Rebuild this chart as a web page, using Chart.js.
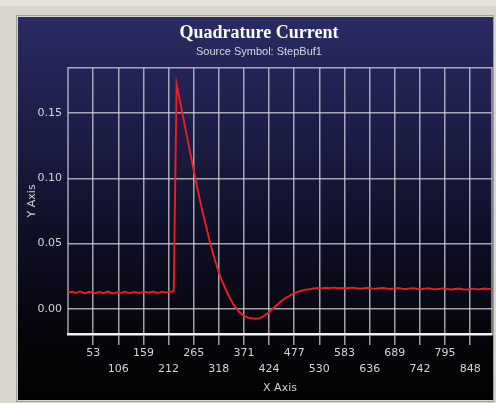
<!DOCTYPE html>
<html>
<head>
<meta charset="utf-8">
<script src="https://cdn.jsdelivr.net/npm/chart.js@4.4.1/dist/chart.umd.min.js"></script>
<style>
  html, body { margin: 0; padding: 0; background: #d8d5cc; }
  canvas { display: block; }
</style>
</head>
<body>
<canvas id="c" width="496" height="403"></canvas>
<script>
// ---- data ----
const chartTitle = 'Quadrature Current';
const chartSubtitle = 'Source Symbol: StepBuf1';
const xAxisTitle = 'X Axis';
const yAxisTitle = 'Y Axis';

const xTickValues = [53, 106, 159, 212, 265, 318, 371, 424, 477, 530, 583, 636, 689, 742, 795, 848];
const yTickValues = [0.00, 0.05, 0.10, 0.15];

// baseline before the step
const xBase = [0,5,10,15,20,25,30,35,40,45,50,55,60,65,70,75,80,85,90,95,100,105,110,115,120,125,130,135,140,145,150,155,160,165,170,175,180,185,190,195,200,205,210,215,220];
const yBase = [0.0135,0.0128,0.0131,0.0122,0.0126,0.0134,0.0129,0.0120,0.0125,0.0131,
               0.0127,0.0119,0.0124,0.0130,0.0126,0.0121,0.0128,0.0133,0.0125,0.0118,
               0.0123,0.0129,0.0124,0.0127,0.0132,0.0126,0.0121,0.0125,0.0130,0.0127,
               0.0122,0.0126,0.0131,0.0128,0.0124,0.0129,0.0133,0.0127,0.0123,0.0128,
               0.0132,0.0126,0.0129,0.0134,0.0131];

// step, peak, decay, undershoot and recovery
const xStep = [223,229,234,240,246,252,258,264,270,276,282,288,294,300,306,312,318,324,330,336,342,348,354,360,366,372,378,384,390,396,402,408,414,420,426,432,438,444,450,456,462,468,474,480,486,492,498,504,510,516,522];
const yStep = [0.0140,0.1720,0.1630,0.1520,0.1410,0.1300,0.1190,0.1080,0.0970,0.0870,0.0770,0.0680,0.0590,0.0500,0.0420,0.0350,0.0280,0.0220,0.0170,0.0120,0.0080,0.0040,0.0010,-0.0020,-0.0040,-0.0055,-0.0065,-0.0070,-0.0073,-0.0075,-0.0072,-0.0065,-0.0052,-0.0036,-0.0018,0.0002,0.0022,0.0042,0.0060,0.0076,0.0090,0.0103,0.0115,0.0124,0.0132,0.0139,0.0144,0.0149,0.0152,0.0156,0.0158];

// settled tail
const xTail = [528,536,544,552,560,568,576,584,592,600,608,616,624,632,640,648,656,664,672,680,688,696,704,712,720,728,736,744,752,760,768,776,784,792,800,808,816,824,832,840,848,856,864,872,880,888,894];
const yTail = [0.0160,0.0157,0.0162,0.0159,0.0163,0.0158,0.0161,0.0156,0.0160,0.0163,
               0.0158,0.0155,0.0159,0.0162,0.0157,0.0154,0.0158,0.0161,0.0156,0.0153,
               0.0157,0.0160,0.0155,0.0152,0.0156,0.0159,0.0154,0.0151,0.0155,0.0158,
               0.0153,0.0150,0.0154,0.0157,0.0152,0.0149,0.0153,0.0156,0.0151,0.0148,
               0.0152,0.0155,0.0150,0.0153,0.0156,0.0152,0.0154];

const xMin = 0, xMax = 894;
const yMin = -0.0192, yMax = 0.1846;

// ---- build points ----
const xs = xBase.concat(xStep, xTail);
const ys = yBase.concat(yStep, yTail);
const points = xs.map((x, i) => ({ x: x, y: ys[i] }));

const gridColor = 'rgba(205,205,215,0.78)';
const labelColor = '#d4d4d8';

const panelPlugin = {
  id: 'panel',
  beforeDraw(chart) {
    const ctx = chart.ctx;
    ctx.save();
    ctx.fillStyle = '#d8d5cc';
    ctx.fillRect(0, 0, chart.width, chart.height);
    ctx.fillStyle = '#e6e3da';
    ctx.fillRect(0, 0, chart.width, 6);
    ctx.strokeStyle = '#a09d95';
    ctx.lineWidth = 1;
    ctx.strokeRect(16.5, 15.5, 477, 386);
    const g = ctx.createLinearGradient(0, 17, 0, 400);
    g.addColorStop(0, '#2a2b63');
    g.addColorStop(0.3, '#1c1d45');
    g.addColorStop(0.6, '#0d0e22');
    g.addColorStop(0.85, '#050509');
    g.addColorStop(1, '#030303');
    ctx.fillStyle = g;
    ctx.fillRect(18, 17, 475, 383);
    ctx.restore();
  },
  beforeDatasetsDraw(chart) {
    const a = chart.chartArea;
    const ctx = chart.ctx;
    ctx.save();
    ctx.strokeStyle = gridColor;
    ctx.lineWidth = 1.5;
    ctx.beginPath();
    ctx.moveTo(a.left, a.bottom);
    ctx.lineTo(a.left, a.top);
    ctx.lineTo(a.right, a.top);
    ctx.lineTo(a.right, a.bottom);
    ctx.stroke();
    ctx.restore();
  }
};

new Chart(document.getElementById('c'), {
  type: 'line',
  data: {
    datasets: [{
      data: points,
      borderColor: '#ee1c24',
      borderWidth: 1.9,
      pointRadius: 0,
      tension: 0,
      fill: false
    }]
  },
  options: {
    responsive: false,
    devicePixelRatio: 1,
    animation: false,
    layout: { padding: { left: 26, right: 4, top: 23, bottom: 8 } },
    plugins: {
      legend: { display: false },
      tooltip: { enabled: false },
      title: {
        display: true,
        text: chartTitle,
        color: '#ffffff',
        font: { family: 'Liberation Serif', size: 18, weight: 'bold' },
        padding: { top: 0, bottom: 0 }
      },
      subtitle: {
        display: true,
        text: chartSubtitle,
        color: '#d8d8e0',
        font: { family: 'Liberation Sans', size: 11 },
        padding: { top: 1, bottom: 9 }
      }
    },
    scales: {
      x: {
        type: 'linear',
        min: xMin,
        max: xMax,
        afterBuildTicks: s => { s.ticks = xTickValues.map(v => ({ value: v })); },
        afterFit: s => { s.height = 61; },
        ticks: {
          autoSkip: false,
          maxRotation: 0,
          padding: 0,
          color: labelColor,
          font: { family: 'DejaVu Sans', size: 11, lineHeight: 1.45 },
          callback: (v, i) => (i % 2 === 0 ? String(v) : ['', String(v)])
        },
        grid: {
          color: gridColor,
          lineWidth: 1.5,
          tickLength: 11,
          tickColor: gridColor,
          drawTicks: true
        },
        border: { display: true, color: '#f2f2f2', width: 2.5 },
        title: {
          display: true,
          text: xAxisTitle,
          color: labelColor,
          font: { family: 'DejaVu Sans', size: 11 },
          padding: { top: 3, bottom: 0 }
        }
      },
      y: {
        type: 'linear',
        min: yMin,
        max: yMax,
        afterBuildTicks: s => { s.ticks = yTickValues.map(v => ({ value: v })); },
        afterFit: s => { s.width = 42; },
        ticks: {
          padding: 6,
          color: labelColor,
          font: { family: 'DejaVu Sans', size: 11 },
          callback: v => Number(v).toFixed(2)
        },
        grid: {
          color: gridColor,
          lineWidth: 1.5,
          drawTicks: false
        },
        border: { display: false },
        title: {
          display: true,
          text: yAxisTitle,
          color: labelColor,
          font: { family: 'DejaVu Sans', size: 11 },
          padding: { top: 0, bottom: 0 }
        }
      }
    }
  },
  plugins: [panelPlugin]
});
</script>
</body>
</html>
